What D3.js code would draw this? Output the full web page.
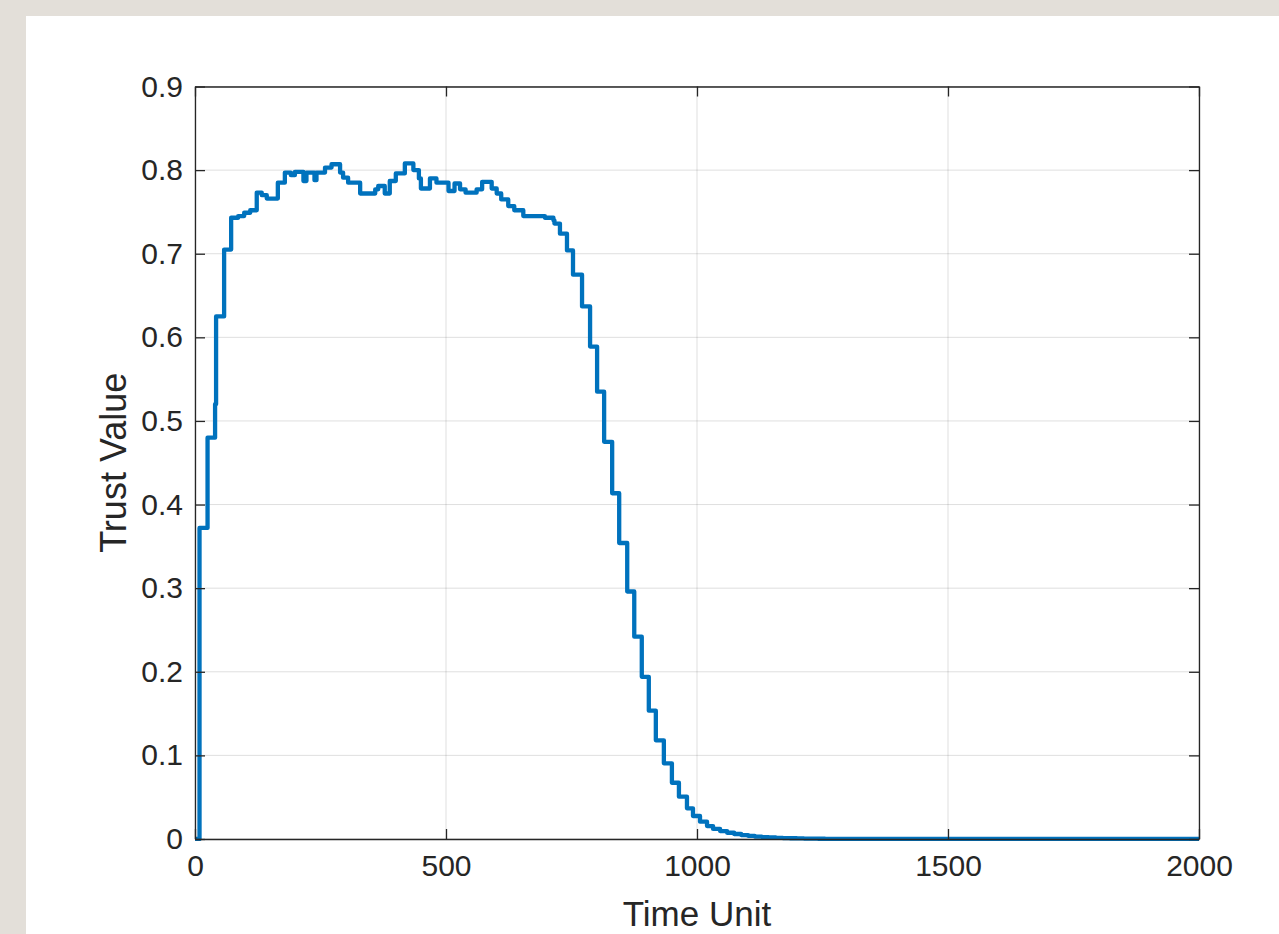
<!DOCTYPE html>
<html>
<head>
<meta charset="utf-8">
<script src="https://cdn.jsdelivr.net/npm/d3@7"></script>
<style>
  html, body { margin: 0; padding: 0; background: #e3dfd9; }
  svg { display: block; }
</style>
</head>
<body>
<svg id="chart" width="1279" height="934"></svg>
<script>
// Times (time units) at which the trust value changes, and the value held from then on
const stepTimes = [
  0, 9, 25, 40, 42, 58, 72, 86, 98, 110, 123, 133, 143, 165, 179, 191, 199, 216, 222, 238, 242,
  259, 272, 289, 295, 305, 329, 359, 365, 378, 388, 400, 418, 435, 446, 450, 468, 481,
  505, 517, 528, 539, 561, 572, 591, 601, 610, 624, 636, 654, 697, 714, 716, 727,
  741, 753, 771, 787, 801, 815, 831, 845, 861, 875, 890, 904, 918, 934, 950, 964,
  980, 992, 1006, 1020, 1032, 1046, 1060, 1074, 1088, 1102, 1115, 1129, 1143, 1157,
  1171, 1185, 1199, 1213, 1227, 1241, 1255, 1300, 2000
];
const trustValues = [
  0, 0.372, 0.48, 0.52, 0.625, 0.705, 0.743, 0.745, 0.749, 0.752, 0.773, 0.770, 0.766, 0.785, 0.797, 0.794, 0.798, 0.787, 0.797, 0.788, 0.797,
  0.803, 0.807, 0.797, 0.791, 0.785, 0.772, 0.777, 0.781, 0.772, 0.787, 0.796, 0.808, 0.800, 0.790, 0.778, 0.790, 0.785,
  0.775, 0.784, 0.777, 0.773, 0.777, 0.786, 0.778, 0.772, 0.765, 0.757, 0.752, 0.745, 0.743, 0.740, 0.736, 0.724,
  0.704, 0.675, 0.637, 0.589, 0.535, 0.475, 0.4135, 0.354, 0.296, 0.242, 0.194, 0.1535, 0.118, 0.0905, 0.0673, 0.0506,
  0.0367, 0.0275, 0.0207, 0.0155, 0.012, 0.0095, 0.0075, 0.006, 0.0047, 0.0037, 0.0029, 0.0023, 0.0018, 0.0014,
  0.0011, 0.0009, 0.0007, 0.0005, 0.0004, 0.0003, 0.0002, 0.0001, 0.0001
];
const xTicks = [0, 500, 1000, 1500, 2000];
const xTickLabels = ["0", "500", "1000", "1500", "2000"];
const yTicks = [0, 0.1, 0.2, 0.3, 0.4, 0.5, 0.6, 0.7, 0.8, 0.9];
const yTickLabels = ["0", "0.1", "0.2", "0.3", "0.4", "0.5", "0.6", "0.7", "0.8", "0.9"];
const xLabel = "Time Unit";
const yLabel = "Trust Value";

const svg = d3.select("#chart");
const W = 1279, H = 934;
const plot = { left: 195, right: 1199, top: 86.5, bottom: 839 };
const font = "'Liberation Sans', Arial, Helvetica, sans-serif";
const textColor = "#262626";

// page background (white area)
svg.append("rect").attr("x", 26).attr("y", 16).attr("width", W - 26).attr("height", H - 16).attr("fill", "#ffffff");

const x = d3.scaleLinear().domain([0, 2000]).range([plot.left, plot.right]);
const y = d3.scaleLinear().domain([0, 0.9]).range([plot.bottom, plot.top]);

// grid
const grid = svg.append("g");
grid.selectAll("line.gx").data(xTicks).join("line")
  .attr("x1", d => x(d)).attr("x2", d => x(d))
  .attr("y1", plot.top).attr("y2", plot.bottom)
  .attr("stroke", "#262626").attr("stroke-opacity", 0.15).attr("stroke-width", 1);
grid.selectAll("line.gy").data(yTicks).join("line")
  .attr("x1", plot.left).attr("x2", plot.right)
  .attr("y1", d => y(d)).attr("y2", d => y(d))
  .attr("stroke", "#262626").attr("stroke-opacity", 0.15).attr("stroke-width", 1);

// data line
const data = stepTimes.map((t, i) => ({ t, v: trustValues[i] }));
svg.append("clipPath").attr("id", "clip").append("rect")
  .attr("x", plot.left).attr("y", plot.top - 2)
  .attr("width", plot.right - plot.left + 1).attr("height", plot.bottom - plot.top + 4);
svg.append("path")
  .datum(data)
  .attr("clip-path", "url(#clip)")
  .attr("fill", "none")
  .attr("stroke", "#0072BD")
  .attr("stroke-width", 4.3)
  .attr("stroke-linejoin", "round")
  .attr("d", d3.line().x(d => x(d.t)).y(d => y(d.v)).curve(d3.curveStepAfter));

// axes (box with inward ticks, MATLAB style)
const axColor = "#262626";
const tickLen = 10;
const bottomAxis = d3.axisBottom(x).tickValues(xTicks).tickFormat((d, i) => xTickLabels[i]).tickSizeInner(-tickLen).tickSizeOuter(0).tickPadding(16);
const leftAxis = d3.axisLeft(y).tickValues(yTicks).tickFormat((d, i) => yTickLabels[i]).tickSizeInner(-tickLen).tickSizeOuter(0).tickPadding(12);
const topAxis = d3.axisTop(x).tickValues(xTicks).tickFormat("").tickSizeInner(-tickLen).tickSizeOuter(0);
const rightAxis = d3.axisRight(y).tickValues(yTicks).tickFormat("").tickSizeInner(-tickLen).tickSizeOuter(0);

function styleAxis(g) {
  g.select(".domain").attr("stroke", axColor).attr("stroke-width", 1.3);
  g.selectAll(".tick line").attr("stroke", axColor).attr("stroke-width", 1.3);
  g.selectAll(".tick text").attr("fill", textColor).style("font-family", font).style("font-size", "30px");
}
svg.append("g").attr("transform", `translate(0,${plot.bottom})`).call(bottomAxis).call(styleAxis);
svg.append("g").attr("transform", `translate(${plot.left},0)`).call(leftAxis).call(styleAxis);
svg.append("g").attr("transform", `translate(0,${plot.top})`).call(topAxis).call(styleAxis);
svg.append("g").attr("transform", `translate(${plot.right},0)`).call(rightAxis).call(styleAxis);

// axis labels
svg.append("text")
  .attr("x", (plot.left + plot.right) / 2).attr("y", 926)
  .attr("text-anchor", "middle")
  .attr("fill", textColor).style("font-family", font).style("font-size", "35px")
  .text(xLabel);
svg.append("text")
  .attr("transform", `translate(126,${(plot.top + plot.bottom) / 2}) rotate(-90)`)
  .attr("text-anchor", "middle")
  .attr("fill", textColor).style("font-family", font).style("font-size", "36px")
  .text(yLabel);
</script>
</body>
</html>
